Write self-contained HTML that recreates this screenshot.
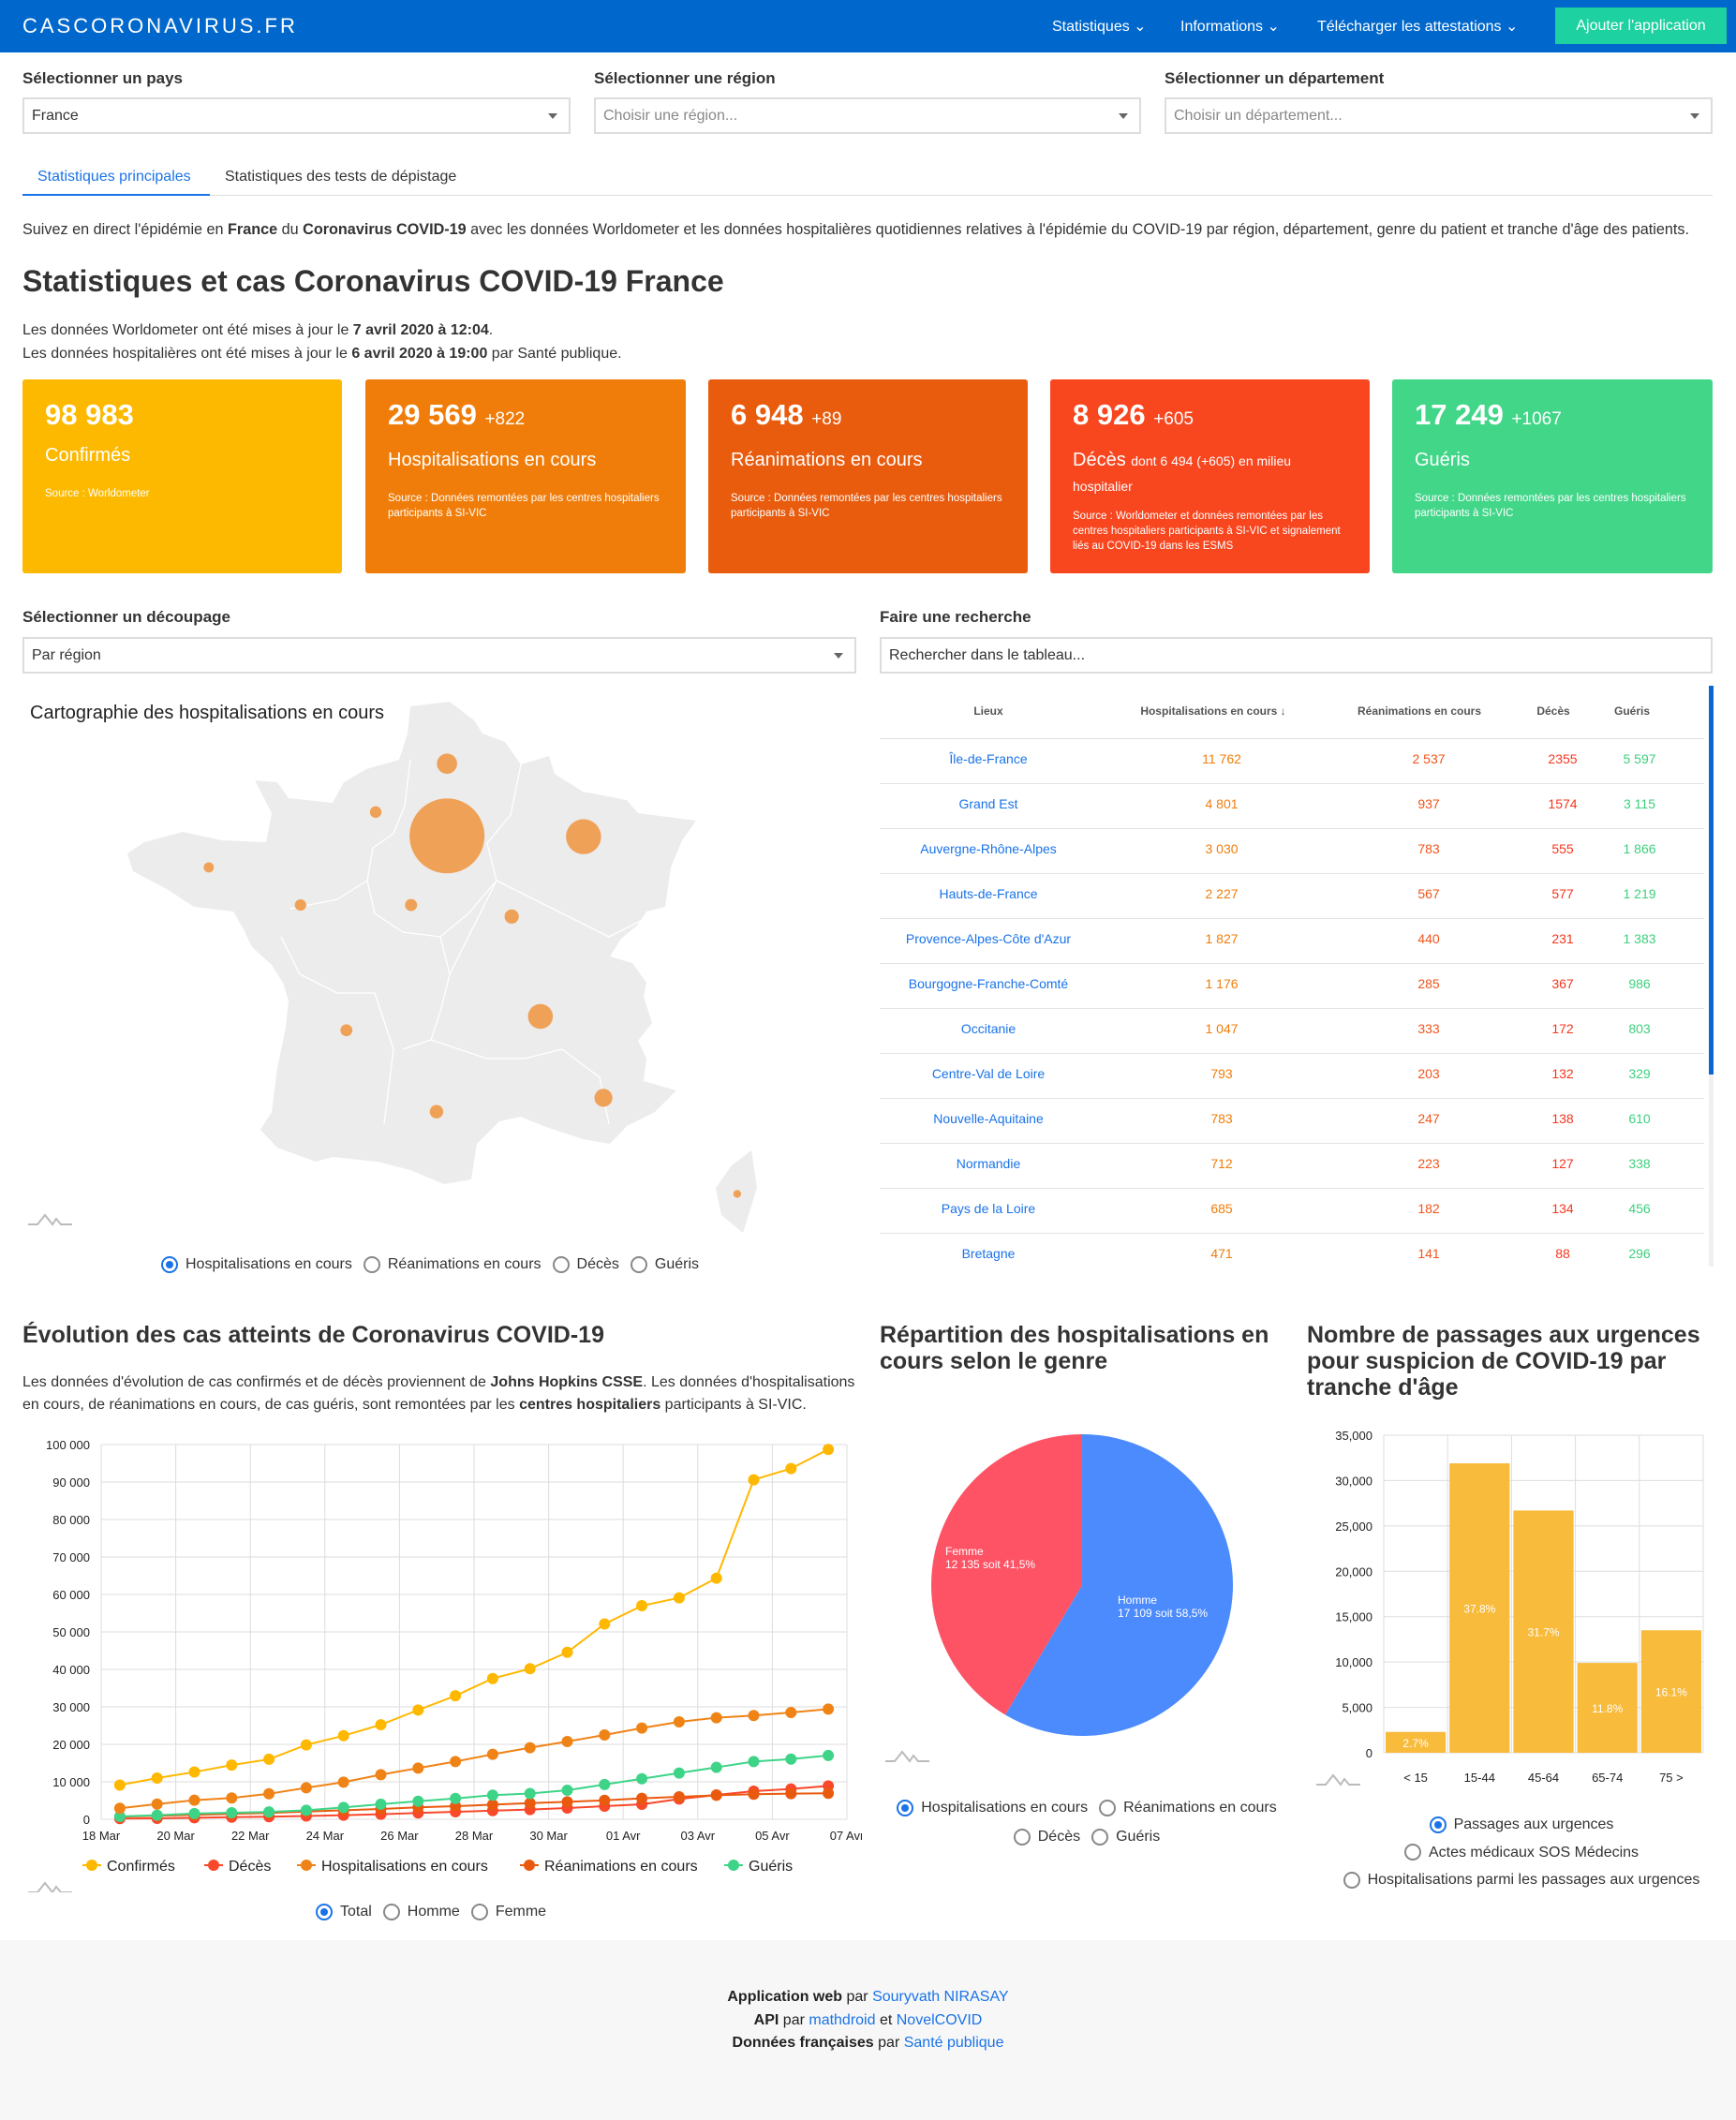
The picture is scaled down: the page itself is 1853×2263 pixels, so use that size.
<!DOCTYPE html>
<html lang="fr"><head><meta charset="utf-8"><title>CASCORONAVIRUS.FR</title>
<style>
*{box-sizing:border-box;margin:0;padding:0}
body{width:1853px;height:2263px;position:relative;background:#fff;font-family:"Liberation Sans",sans-serif;color:#333;overflow:hidden}
.a{position:absolute;white-space:nowrap}
.lbl{font-size:17px;font-weight:bold;color:#333}
.sel{position:absolute;border:2px solid #ddd;height:39px;font-size:16px;padding:9px 8px;color:#333;background:#fff}
.sel.ph{color:#888}
.caret{position:absolute;right:12px;top:15px;width:0;height:0;border-left:5px solid transparent;border-right:5px solid transparent;border-top:6px solid #666}
.card{position:absolute;top:405px;height:207px;border-radius:3px;color:#fff;padding:18px 24px}
.card .n{font-size:31px;font-weight:bold;line-height:40px}
.card .n span{font-size:19px;font-weight:normal}
.card .t{font-size:20px;margin-top:10px;line-height:26px}
.card .s{font-size:11.5px;margin-top:20px;line-height:16px;white-space:normal}
.radio{display:inline-flex;align-items:center;font-size:16px;color:#333;margin-right:12px}
.radio i{display:inline-block;width:18px;height:18px;border:2px solid #888;border-radius:50%;margin-right:8px;position:relative}
.radio i.on{border-color:#1a73e8}
.radio i.on:after{content:"";position:absolute;left:3px;top:3px;width:8px;height:8px;border-radius:50%;background:#1a73e8}
h2{font-size:25px;font-weight:bold;color:#333;line-height:28px}
.td{position:absolute;font-size:14px;transform:translateX(-50%);white-space:nowrap}
</style></head><body>
<div class="a" style="left:0;top:0;width:1853px;height:56px;background:#0068cc"></div>
<div class="a" style="left:24px;top:15px;font-size:22px;color:#fff;letter-spacing:3px">CASCORONAVIRUS.FR</div>
<div class="a" style="left:1123px;top:18px;font-size:16px;color:#fff">Statistiques ⌄</div>
<div class="a" style="left:1260px;top:18px;font-size:16px;color:#fff">Informations ⌄</div>
<div class="a" style="left:1406px;top:18px;font-size:16px;color:#fff">Télécharger les attestations ⌄</div>
<div class="a" style="left:1660px;top:8px;width:183px;height:39px;background:#1dd1a1;color:#fff;font-size:16px;text-align:center;line-height:39px">Ajouter l'application</div>

<div class="a lbl" style="left:24px;top:74px">Sélectionner un pays</div>
<div class="a lbl" style="left:634px;top:74px">Sélectionner une région</div>
<div class="a lbl" style="left:1243px;top:74px">Sélectionner un département</div>
<div class="sel" style="left:24px;top:104px;width:585px">France<span class="caret"></span></div>
<div class="sel ph" style="left:634px;top:104px;width:584px">Choisir une région...<span class="caret"></span></div>
<div class="sel ph" style="left:1243px;top:104px;width:585px">Choisir un département...<span class="caret"></span></div>

<div class="a" style="left:40px;top:180px;font-size:16px;color:#1a73e8">Statistiques principales</div>
<div class="a" style="left:240px;top:180px;font-size:16px;color:#333">Statistiques des tests de dépistage</div>
<div class="a" style="left:24px;top:208px;width:1804px;height:1px;background:#ddd"></div>
<div class="a" style="left:24px;top:207px;width:200px;height:2px;background:#1a73e8"></div>

<div class="a" style="left:24px;top:236px;font-size:16.2px">Suivez en direct l'épidémie en <b>France</b> du <b>Coronavirus COVID-19</b> avec les données Worldometer et les données hospitalières quotidiennes relatives à l'épidémie du COVID-19 par région, département, genre du patient et tranche d'âge des patients.</div>
<div class="a" style="left:24px;top:282px;font-size:32px;font-weight:bold;color:#333">Statistiques et cas Coronavirus COVID-19 France</div>
<div class="a" style="left:24px;top:344px;font-size:16px">Les données Worldometer ont été mises à jour le <b>7 avril 2020 à 12:04</b>.</div>
<div class="a" style="left:24px;top:369px;font-size:16px">Les données hospitalières ont été mises à jour le <b>6 avril 2020 à 19:00</b> par Santé publique.</div>

<div class="card" style="left:24px;width:341px;background:#fdb900"><div class="n">98 983</div><div class="t">Confirmés</div><div class="s">Source : Worldometer</div></div>
<div class="card" style="left:390px;width:342px;background:#f07d0a"><div class="n">29 569 <span>+822</span></div><div class="t">Hospitalisations en cours</div><div class="s">Source : Données remontées par les centres hospitaliers participants à SI-VIC</div></div>
<div class="card" style="left:756px;width:341px;background:#e95c0e"><div class="n">6 948 <span>+89</span></div><div class="t">Réanimations en cours</div><div class="s">Source : Données remontées par les centres hospitaliers participants à SI-VIC</div></div>
<div class="card" style="left:1121px;width:341px;background:#f8461f"><div class="n">8 926 <span>+605</span></div><div class="t">Décès <span style="font-size:14px">dont 6 494 (+605) en milieu</span></div><div style="font-size:14px;margin-top:6px">hospitalier</div><div class="s" style="margin-top:16px">Source : Worldometer et données remontées par les centres hospitaliers participants à SI-VIC et signalement liés au COVID-19 dans les ESMS</div></div>
<div class="card" style="left:1486px;width:342px;background:#42d689"><div class="n">17 249 <span>+1067</span></div><div class="t">Guéris</div><div class="s">Source : Données remontées par les centres hospitaliers participants à SI-VIC</div></div>

<div class="a lbl" style="left:24px;top:649px">Sélectionner un découpage</div>
<div class="sel" style="left:24px;top:680px;width:890px">Par région<span class="caret"></span></div>
<div class="a lbl" style="left:939px;top:649px">Faire une recherche</div>
<div class="sel" style="left:939px;top:680px;width:889px">Rechercher dans le tableau...</div>

<svg class="a" style="left:0;top:730px" width="920" height="600" viewBox="0 730 920 600" id="map"></svg>
<div class="a" style="left:32px;top:750px;font-size:20px;color:#222">Cartographie des hospitalisations en cours</div>
<div class="a" style="left:172px;top:1341px"><span class="radio"><i class="on"></i>Hospitalisations en cours</span><span class="radio"><i></i>Réanimations en cours</span><span class="radio"><i></i>Décès</span><span class="radio"><i></i>Guéris</span></div>

<div id="table" class="a" style="left:939px;top:732px;width:890px;height:620px;overflow:hidden"></div>

<h2 class="a" style="left:24px;top:1411px">Évolution des cas atteints de Coronavirus COVID-19</h2>
<div class="a" style="left:24px;top:1464px;font-size:16px;line-height:24px">Les données d'évolution de cas confirmés et de décès proviennent de <b>Johns Hopkins CSSE</b>. Les données d'hospitalisations<br>en cours, de réanimations en cours, de cas guéris, sont remontées par les <b>centres hospitaliers</b> participants à SI-VIC.</div>
<svg class="a" id="line" style="left:0;top:1520px" width="920" height="500" viewBox="0 1520 920 500"></svg>
<div class="a" style="left:337px;top:2032px"><span class="radio"><i class="on"></i>Total</span><span class="radio"><i></i>Homme</span><span class="radio"><i></i>Femme</span></div>

<h2 class="a" style="left:939px;top:1411px">Répartition des hospitalisations en<br>cours selon le genre</h2>
<svg class="a" id="pie" style="left:920px;top:1500px" width="450" height="400" viewBox="920 1500 450 400"></svg>
<div class="a" style="left:946px;top:1917px;width:440px;text-align:center;white-space:normal;line-height:26px"><span class="radio"><i class="on"></i>Hospitalisations en cours</span><span class="radio"><i></i>Réanimations en cours</span><br><span class="radio"><i></i>Décès</span><span class="radio"><i></i>Guéris</span></div>

<h2 class="a" style="left:1395px;top:1411px">Nombre de passages aux urgences<br>pour suspicion de COVID-19 par<br>tranche d'âge</h2>
<svg class="a" id="bar" style="left:1380px;top:1510px" width="473" height="420" viewBox="1380 1510 473 420"></svg>
<div class="a" style="left:1410px;top:1935px;width:440px;text-align:center;white-space:normal;line-height:25px"><span class="radio"><i class="on"></i>Passages aux urgences</span><br><span class="radio"><i></i>Actes médicaux SOS Médecins</span><br><span class="radio"><i></i>Hospitalisations parmi les passages aux urgences</span></div>

<div class="a" style="left:0;top:2071px;width:1853px;height:192px;background:#f7f7f7"></div>
<div class="a" style="left:0;top:2120px;width:1853px;text-align:center;font-size:16px;line-height:24.5px;color:#222"><b>Application web</b> par <span style="color:#1a73e8">Souryvath NIRASAY</span><br><b>API</b> par <span style="color:#1a73e8">mathdroid</span> et <span style="color:#1a73e8">NovelCOVID</span><br><b>Données françaises</b> par <span style="color:#1a73e8">Santé publique</span></div>

<script>
var NS="http://www.w3.org/2000/svg";
function mk(p,t,at){var e=document.createElementNS(NS,t);for(var k in at)e.setAttribute(k,at[k]);p.appendChild(e);return e;}
function logo(p,x,y){var g=mk(p,'path',{d:'M'+x+' '+(y+10)+' h10 l8 -10 l8 10 l4 -6 l5 6 h12',fill:'none',stroke:'#bbb','stroke-width':2});

}

/* ---- MAP ---- */
var regionNames=["Île-de-France","Grand Est","Auvergne-Rhône-Alpes","Hauts-de-France","Provence-Alpes-Côte d'Azur","Bourgogne-Franche-Comté","Occitanie","Centre-Val de Loire","Nouvelle-Aquitaine","Normandie","Pays de la Loire","Bretagne","Corse"];
var regionHosp=[11762,4801,3030,2227,1827,1176,1047,793,783,712,685,471,60];
var regionRea=[2537,937,783,567,440,285,333,203,247,223,182,141,20];
var regionDeces=[2355,1574,555,577,231,367,172,132,138,127,134,88,30];
var regionGueris=[5597,3115,1866,1219,1383,986,803,329,610,338,456,296,80];
var regionLon=[2.57,5.04,4.26,2.57,5.40,3.74,2.38,1.92,0.75,1.28,-0.08,-1.74,7.82];
var regionLat=[48.66,48.65,46.31,49.60,45.25,47.61,45.07,47.76,46.13,48.97,47.76,48.25,44.00];
var map=document.getElementById('map');
function mx(lon){return 473+(lon-2.5)*59;}
function my(lat){return 889-(lat-48.7)*82;}
var fr=[[438,754],[480,749],[506,769],[515,783],[539,792],[556,816],[586,807],[592,826],[622,845],[669,854],[681,868],[743,876],[728,897],[716,926],[710,968],[690,973],[681,987],[663,1002],[651,1021],[675,1028],[690,1049],[687,1064],[696,1092],[681,1111],[690,1130],[687,1154],[722,1164],[699,1187],[669,1202],[651,1221],[622,1216],[580,1202],[556,1192],[533,1197],[509,1221],[503,1259],[474,1264],[438,1249],[403,1240],[355,1235],[337,1240],[296,1225],[278,1206],[290,1187],[296,1140],[305,1097],[308,1068],[302,1049],[290,1030],[269,1011],[260,992],[249,973],[207,968],[178,949],[142,930],[136,911],[154,899],[195,888],[237,897],[284,899],[290,868],[272,833],[296,835],[308,852],[355,857],[367,835],[391,821],[426,811],[435,783]];
var cor=[[802,1228],[808,1268],[793,1316],[770,1297],[764,1268],[781,1244]];
function poly(pts){return pts.map(function(p){return p[0]+','+p[1]}).join(' ');}
var pf=mk(map,'polygon',{points:poly(fr),fill:'#ececec'});


var pc=mk(map,'polygon',{points:poly(cor),fill:'#ececec'});


var borders=['M438,811 L432,860 L420,890 L398,905 L392,940','M556,816 L545,870 L520,900 L530,940','M392,940 L360,960 L310,970','M530,940 L500,975 L470,1000 L430,995 L400,975 L392,940','M470,1000 L480,1040 L470,1080 L460,1110 L430,1120','M530,940 L590,970 L650,1000 L690,980','M530,940 L480,1040','M560,1130 L600,1120 L640,1150 L650,1200','M300,1000 L320,1040 L360,1060 L400,1060 L420,1120 L410,1200','M460,1110 L520,1130 L560,1130'];
borders.forEach(function(d){var b=mk(map,'path',{d:d,fill:'none',stroke:'#fff','stroke-width':1.3});

});
var maxH=Math.max.apply(null,regionHosp);
regionNames.forEach(function(n,i){var c=mk(map,'circle',{cx:mx(regionLon[i]),cy:my(regionLat[i]),r:4+36*regionHosp[i]/maxH,fill:'#ef9a4a','fill-opacity':0.92});

});
logo(map,30,1297);

/* ---- TABLE ---- */
var tb=document.getElementById('table');
var heads=["Lieux","Hospitalisations en cours ↓","Réanimations en cours","Décès","Guéris"];
var hx=[116,356,576,719,803],vx=[116,365,586,729,811];
var cols=['#1a73e8','#f07d0a','#f2541b','#f5361f','#3ecf7e'];
var html='';
heads.forEach(function(h,i){html+='<div class="td" style="left:'+hx[i]+'px;top:20px;font-size:12px;font-weight:bold;color:#555">'+h+'</div>';});
html+='<div style="position:absolute;left:0;top:56px;width:880px;height:1px;background:#ddd"></div>';
function fmt(v){return v>=1000&&v!==1574&&v!==2355?String(v).replace(/\B(?=(\d{3})+$)/g,' '):String(v);}
for(var r=0;r<12;r++){var y=70+r*48;
 var vals=[regionNames[r],fmt(regionHosp[r]),fmt(regionRea[r]),String(regionDeces[r]),fmt(regionGueris[r])];
 vals.forEach(function(v,i){html+='<div class="td" style="left:'+vx[i]+'px;top:'+y+'px;color:'+cols[i]+'">'+v+'</div>';});
 html+='<div style="position:absolute;left:0;top:'+(y+34)+'px;width:880px;height:1px;background:#e3e3e3"></div>';}
html+='<div style="position:absolute;left:885px;top:0;width:5px;height:620px;background:#f0f0f0"></div><div style="position:absolute;left:885px;top:0;width:5px;height:415px;background:#0b66d0"></div>';
tb.innerHTML=html;

/* ---- LINE CHART ---- */
var dates=["18 Mar","20 Mar","22 Mar","24 Mar","26 Mar","28 Mar","30 Mar","01 Avr","03 Avr","05 Avr","07 Avr"];
var yTicks=[0,10000,20000,30000,40000,50000,60000,70000,80000,90000,100000];
var confirmes=[9134,10995,12612,14459,16018,19856,22304,25233,29155,32964,37575,40174,44550,52128,56989,59105,64338,90600,93600,98700];
var hospit=[2950,4050,5100,5700,6800,8400,9900,11900,13650,15400,17350,19100,20750,22500,24350,26000,27100,27700,28500,29400];
var gueris=[760,1100,1530,1750,1970,2400,3170,4040,4800,5570,6440,6880,7750,9280,10800,12340,13860,15400,16050,17030];
var rea=[700,950,1200,1450,1700,2050,2400,2750,3200,3500,3900,4300,4650,5050,5600,6000,6400,6700,6850,6950];
var deces=[180,260,420,560,680,870,1100,1330,1700,1990,2300,2600,3000,3500,4000,5400,6500,7500,8100,8900];
var L=document.getElementById('line');
var X0=108,X1=904,Y0=1942,Y1=1542;
function lx(d){return X0+(d+0.5)*(X1-X0)/20;}
function ly(v){return Y0-v/100000*(Y0-Y1);}
yTicks.forEach(function(t){mk(L,'line',{x1:X0,x2:X1,y1:ly(t),y2:ly(t),stroke:'#ddd'});
 var tx=mk(L,'text',{x:96,y:ly(t)+5,'text-anchor':'end','font-size':13,fill:'#222'});tx.textContent=String(t).replace(/\B(?=(\d{3})+$)/g,' ');
 
 });
dates.forEach(function(d,i){var x=X0+i*2*(X1-X0)/20;mk(L,'line',{x1:x,x2:x,y1:Y1,y2:Y0,stroke:'#ddd'});
 var tx=mk(L,'text',{x:x,y:1964,'text-anchor':'middle','font-size':13,fill:'#222'});tx.textContent=d;
 
 });
var series=[["Décès",deces,'#f9482a'],["Réanimations en cours",rea,'#ea5a0e'],["Guéris",gueris,'#3ed488'],["Hospitalisations en cours",hospit,'#f08316'],["Confirmés",confirmes,'#ffb800']];
series.forEach(function(s){var pts=s[1].map(function(v,i){return lx(i)+','+ly(v)}).join(' ');
 var pl=mk(L,'polyline',{points:pts,fill:'none',stroke:s[2],'stroke-width':2});
 
 
 s[1].forEach(function(v,i){var c=mk(L,'circle',{cx:lx(i),cy:ly(v),r:6,fill:s[2]});
 
 });});
var legN=["Confirmés","Décès","Hospitalisations en cours","Réanimations en cours","Guéris"];
var legC=['#ffb800','#f9482a','#f08316','#ea5a0e','#3ed488'];
var legX=[88,218,317,555,773];
legN.forEach(function(n,i){mk(L,'line',{x1:legX[i],x2:legX[i]+20,y1:1991,y2:1991,stroke:legC[i],'stroke-width':2});mk(L,'circle',{cx:legX[i]+10,cy:1991,r:6,fill:legC[i]});
 var t=mk(L,'text',{x:legX[i]+26,y:1997,'font-size':16,fill:'#222'});t.textContent=n;
 
 });
logo(L,30,2010);

/* ---- PIE ---- */
var genders=["Homme","Femme"];
var genderValues=[17109,12135];
var genderLabels=["17 109 soit 58,5%","12 135 soit 41,5%"];
var P=document.getElementById('pie');var cx=1155,cy=1692,R=161;
var tot=genderValues[0]+genderValues[1],a0=-Math.PI/2;
var pcol=['#4b8bfd','#fd5365'];
var labelPos=[[1193,1712],[1009,1660]];
genders.forEach(function(g,i){var a1=a0+genderValues[i]/tot*2*Math.PI;
 var large=(a1-a0)>Math.PI?1:0;
 var d='M'+cx+','+cy+' L'+(cx+R*Math.cos(a0))+','+(cy+R*Math.sin(a0))+' A'+R+','+R+' 0 '+large+' 1 '+(cx+R*Math.cos(a1))+','+(cy+R*Math.sin(a1))+' Z';
 var p=mk(P,'path',{d:d,fill:pcol[i]});
 
 
 var lxp=labelPos[i][0],lyp=labelPos[i][1];
 var t=mk(P,'text',{x:lxp,y:lyp,'font-size':12,fill:'#fff'});t.textContent=g;
 
 
 var t2=mk(P,'text',{x:lxp,y:lyp+14,'font-size':12,fill:'#fff'});t2.textContent=genderLabels[i];
 a0=a1;});
logo(P,945,1870);

/* ---- BAR ---- */
var ages=["< 15","15-44","45-64","65-74","75 >"];
var ageValues=[2300,31900,26700,9900,13500];
var agePct=["2.7%","37.8%","31.7%","11.8%","16.1%"];
var barTicks=[0,5000,10000,15000,20000,25000,30000,35000];
var B=document.getElementById('bar');var BX0=1477,BX1=1818,BY0=1871,BY1=1532;
function by(v){return BY0-v/35000*(BY0-BY1);}
var slot=(BX1-BX0)/ages.length;
barTicks.forEach(function(t){mk(B,'line',{x1:BX0,x2:BX1,y1:by(t),y2:by(t),stroke:'#ddd'});
 var tx=mk(B,'text',{x:1465,y:by(t)+5,'text-anchor':'end','font-size':13,fill:'#222'});tx.textContent=String(t).replace(/\B(?=(\d{3})+$)/g,',');
 
 });
for(var i=0;i<=ages.length;i++)mk(B,'line',{x1:BX0+i*slot,x2:BX0+i*slot,y1:BY1,y2:BY0,stroke:'#ddd'});
ages.forEach(function(a,i){var x=BX0+i*slot;
 var r=mk(B,'rect',{x:x+2,y:by(ageValues[i]),width:slot-4,height:BY0-by(ageValues[i]),fill:'#f8bb3b'});
 
 
 var t=mk(B,'text',{x:x+slot/2,y:(by(ageValues[i])+BY0)/2+5,'text-anchor':'middle','font-size':12,fill:'#fff'});t.textContent=agePct[i];
 var t2=mk(B,'text',{x:x+slot/2,y:1902,'text-anchor':'middle','font-size':13,fill:'#222'});t2.textContent=a;
 
 });
logo(B,1405,1895);
</script>
</body></html>
